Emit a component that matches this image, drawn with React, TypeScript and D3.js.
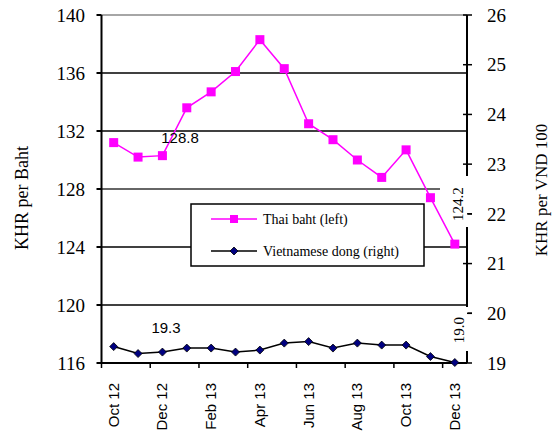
import * as d3 from "d3";

const months = [
  "Oct 12", "Nov 12", "Dec 12", "Jan 13", "Feb 13", "Mar 13", "Apr 13", "May 13",
  "Jun 13", "Jul 13", "Aug 13", "Sep 13", "Oct 13", "Nov 13", "Dec 13",
];
const thaiBaht = [131.2, 130.2, 130.3, 133.6, 134.7, 136.1, 138.3, 136.3, 132.5, 131.4, 130.0, 128.8, 130.7, 127.4, 124.2];
const vietDong = [19.33, 19.19, 19.22, 19.3, 19.3, 19.22, 19.26, 19.4, 19.43, 19.3, 19.4, 19.36, 19.36, 19.13, 19.01];
const leftTicks = [116, 120, 124, 128, 132, 136, 140];
const rightTicks = [19, 20, 21, 22, 23, 24, 25, 26];
const seriesNames = ["Thai baht (left)", "Vietnamese dong (right)"];

const W = 554;
const H = 437;
const left = 101.5;
const right = 467;
const top = 15;
const bottom = 363;

export default function App() {
  const x = d3.scaleBand().domain(months).range([left, right]);
  const yL = d3.scaleLinear().domain([116, 140]).range([bottom, top]);
  const yR = d3.scaleLinear().domain([19, 26]).range([bottom, top]);
  const cx = (m: string) => (x(m) as number) + x.bandwidth() / 2;

  const bahtLine = d3
    .line<number>()
    .x((_, i) => cx(months[i]))
    .y((d) => yL(d));
  const dongLine = d3
    .line<number>()
    .x((_, i) => cx(months[i]))
    .y((d) => yR(d));

  const serif = "Liberation Serif, serif";
  const sans = "Liberation Sans, sans-serif";

  // x of the last point, used for the rotated end labels
  const lastX = cx(months[months.length - 1]);

  return (
    <div style={{ position: "absolute", left: 0, top: 0 }}>
      <svg width={W} height={H} style={{ display: "block", background: "#fff" }}>
        {/* gridlines */}
        {leftTicks.slice(1).map((t) => (
          <line
            key={"g" + t}
            x1={left}
            x2={t === 128 ? 440 : right}
            y1={yL(t)}
            y2={yL(t)}
            stroke={t === 140 ? "#888" : t === 128 ? "#333" : "#000"}
            strokeWidth={1.4}
          />
        ))}

        {/* left axis */}
        <line x1={left} x2={left} y1={top} y2={bottom} stroke="#000" strokeWidth={2} />
        {leftTicks.map((t) => (
          <g key={"l" + t}>
            <line x1={left - 5} x2={left} y1={yL(t)} y2={yL(t)} stroke="#000" strokeWidth={2} />
            <text x={85} y={yL(t)} dy="0.35em" textAnchor="end" fontFamily={serif} fontSize={19}>
              {t}
            </text>
          </g>
        ))}

        {/* right axis */}
        <line x1={right} x2={right} y1={top} y2={bottom} stroke="#000" strokeWidth={2} />
        {rightTicks.map((t) => (
          <g key={"r" + t}>
            <line x1={right - 4} x2={right + 5} y1={yR(t)} y2={yR(t)} stroke="#000" strokeWidth={1.5} />
            <text x={487} y={yR(t)} dy="0.35em" textAnchor="start" fontFamily={serif} fontSize={19}>
              {t}
            </text>
          </g>
        ))}

        {/* bottom axis */}
        <line x1={left} x2={right} y1={bottom} y2={bottom} stroke="#000" strokeWidth={2} />
        {months.map((m, i) =>
          i % 2 === 0 ? (
            <g key={"x" + m}>
              <line
                x1={x(m) as number}
                x2={x(m) as number}
                y1={bottom}
                y2={bottom + 5}
                stroke="#000"
                strokeWidth={1.5}
              />
              <text
                transform={`translate(${cx(m) + 5},${bottom + 20}) rotate(-90)`}
                textAnchor="end"
                fontFamily={sans}
                fontSize={15}
              >
                {m}
              </text>
            </g>
          ) : null
        )}

        {/* white boxes behind the end labels */}
        <rect x={441} y={176} width={27} height={51} fill="#fff" />
        <rect x={441} y={307} width={27} height={44} fill="#fff" />
        <line x1={right} x2={right + 5} y1={yR(22)} y2={yR(22)} stroke="#000" strokeWidth={1.5} />
        <line x1={right} x2={right + 5} y1={yR(20)} y2={yR(20)} stroke="#000" strokeWidth={1.5} />

        {/* legend */}
        <rect x={191} y={204} width={233} height={62} fill="#fff" stroke="#000" strokeWidth={1.5} />
        <line x1={211} x2={257} y1={219} y2={219} stroke="#ff00ff" strokeWidth={1.5} />
        <rect x={230} y={215} width={8} height={8} fill="#ff00ff" />
        <text x={263} y={219} dy="0.35em" fontFamily={serif} fontSize={14}>
          {seriesNames[0]}
        </text>
        <line x1={211} x2={257} y1={251} y2={251} stroke="#000" strokeWidth={1.5} />
        <path d={`M234,247 L238,251 L234,255 L230,251 Z`} fill="#000080" stroke="#000" strokeWidth={0.8} />
        <text x={263} y={251} dy="0.35em" fontFamily={serif} fontSize={14}>
          {seriesNames[1]}
        </text>

        {/* Thai baht */}
        <path d={bahtLine(thaiBaht) ?? ""} fill="none" stroke="#ff00ff" strokeWidth={1.5} />
        {thaiBaht.map((v, i) => (
          <rect key={"b" + i} x={cx(months[i]) - 4.5} y={yL(v) - 4.5} width={9} height={9} fill="#ff00ff" />
        ))}

        {/* Vietnamese dong */}
        <path d={dongLine(vietDong) ?? ""} fill="none" stroke="#000" strokeWidth={1.5} />
        {vietDong.map((v, i) => {
          const px = cx(months[i]);
          const py = yR(v);
          return (
            <path
              key={"d" + i}
              d={`M${px},${py - 4} L${px + 4},${py} L${px},${py + 4} L${px - 4},${py} Z`}
              fill="#000080"
              stroke="#000"
              strokeWidth={0.8}
            />
          );
        })}

        {/* data labels */}
        <text x={180} y={143} textAnchor="middle" fontFamily={sans} fontSize={15}>
          128.8
        </text>
        <text x={166} y={333} textAnchor="middle" fontFamily={sans} fontSize={15}>
          19.3
        </text>
        <text
          transform={`translate(${lastX + 8},${204}) rotate(-90)`}
          textAnchor="middle"
          fontFamily={serif}
          fontSize={15}
        >
          {thaiBaht[thaiBaht.length - 1].toFixed(1)}
        </text>
        <text
          transform={`translate(${lastX + 9},${330}) rotate(-90)`}
          textAnchor="middle"
          fontFamily={serif}
          fontSize={15}
        >
          {vietDong[vietDong.length - 1].toFixed(1)}
        </text>

        {/* axis titles */}
        <text
          transform={`translate(28,198) rotate(-90)`}
          textAnchor="middle"
          fontFamily={serif}
          fontSize={18}
        >
          KHR per Baht
        </text>
        <text
          transform={`translate(547,190) rotate(-90)`}
          textAnchor="middle"
          fontFamily={serif}
          fontSize={17}
        >
          KHR per VND 100
        </text>
      </svg>
    </div>
  );
}
